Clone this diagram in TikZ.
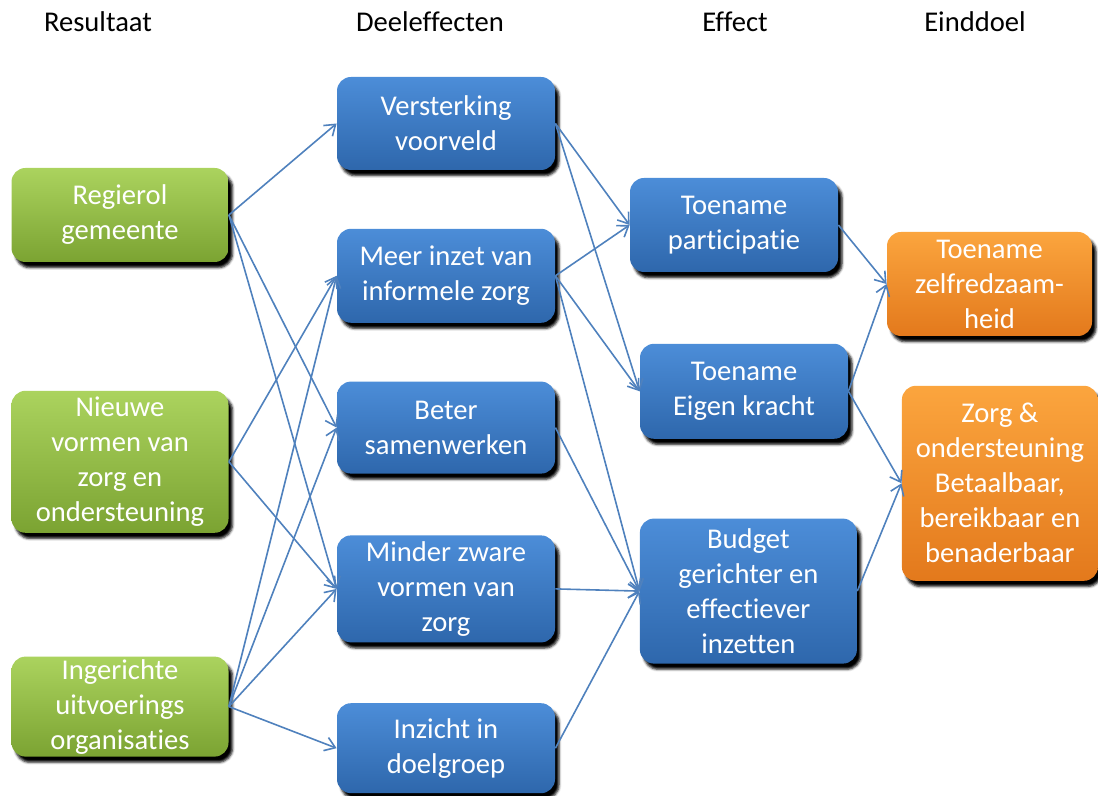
\documentclass[tikz,border=0pt]{standalone}
\usepackage{fontspec}
\setmainfont{Carlito}[Ligatures={NoCommon,NoContextual}, Contextuals=NoAlternate]
\usetikzlibrary{positioning, arrows.meta, shadows.blur}
\definecolor{groenb}{HTML}{ABD35E}
\definecolor{groeno}{HTML}{7BA332}
\definecolor{blauwb}{HTML}{4C8DD8}
\definecolor{blauwo}{HTML}{2E67AC}
\definecolor{oranjeb}{HTML}{FBA53E}
\definecolor{oranjeo}{HTML}{E3791C}
\definecolor{pijl}{HTML}{4F81BD}

\begin{document}
\begin{tikzpicture}[
    x=0.5pt, y=-0.5pt,
    bx/.style={rectangle, rounded corners=7pt, text=white, align=center,
        font=\fontsize{14.3}{17.5}\selectfont, inner sep=1pt,
        blur shadow={shadow xshift=2pt, shadow yshift=-2.8pt,
            shadow blur radius=1.2pt, shadow opacity=100}},
    res/.style={bx, top color=groenb, bottom color=groeno, minimum width=108.5pt},
    dee/.style={bx, top color=blauwb, bottom color=blauwo, minimum width=109pt},
    eff/.style={bx, top color=blauwb, bottom color=blauwo},
    doel/.style={bx, top color=oranjeb, bottom color=oranjeo},
    kop/.style={font=\fontsize{14.3}{17.5}\selectfont},
    pl/.style={-{Straight Barb[length=5pt, width=7pt]}, draw=pijl, line width=0.8pt},
    node distance=29pt]
\useasboundingbox (0,0) rectangle (1098,796);
% kolomkoppen
\node[kop] (hres) at (98,22) {Resultaat};
\node[kop] (hdee) at (430,22) {Deeleffecten};
\node[kop] (heff) at (735,22) {Effect};
\node[kop] (hdoel) at (975,22) {Einddoel};
% resultaat
\node[res, minimum height=47pt] (reg) at (120,215) {Regierol\\gemeente};
\node[res, minimum height=71pt, below=64pt of reg] (nvz) {Nieuwe\\vormen van\\zorg en\\ondersteuning};
\node[res, minimum height=50pt, below=61.5pt of nvz] (iuo) {Ingerichte\\uitvoerings\\organisaties};
% deeleffecten
\node[dee, minimum height=46.5pt] (ver) at (446,123.5) {Versterking\\voorveld};
\node[dee, minimum height=47pt, below=of ver] (mei) {Meer inzet van\\informele zorg};
\node[dee, minimum height=46pt, below=of mei] (bet) {Beter\\samenwerken};
\node[dee, minimum height=53.5pt, below=30.5pt of bet] (min) {Minder zware\\vormen van\\zorg};
\node[dee, minimum height=45pt, below=30pt of min] (inz) {Inzicht in\\doelgroep};
% effect
\node[eff, minimum width=104pt, minimum height=47pt] (par) at (734,225) {Toename\\participatie};
\node[eff, minimum width=104pt, minimum height=47.5pt, below=35.5pt of par, xshift=5pt] (eig) {Toename\\Eigen kracht};
\node[eff, minimum width=108.5pt, minimum height=72.5pt, below=39.5pt of eig, xshift=2.2pt] (bud) {Budget\\gerichter en\\effectiever\\inzetten};
% einddoel
\node[doel, minimum width=102.5pt, minimum height=52pt] (zel) at (989.5,284) {Toename\\zelfredzaam-\\heid};
\node[doel, minimum width=98pt, minimum height=97.5pt, below=24.5pt of zel, xshift=5.2pt] (zor) {Zorg \&\\ondersteuning\\Betaalbaar,\\bereikbaar en\\benaderbaar};
% pijlen
\draw[pl] (reg.east) -- (ver.west);
\draw[pl] (reg.east) -- (bet.west);
\draw[pl] (reg.east) -- (min.west);
\draw[pl] (nvz.east) -- (mei.west);
\draw[pl] (nvz.east) -- (min.west);
\draw[pl] (iuo.east) -- (mei.west);
\draw[pl] (iuo.east) -- (bet.west);
\draw[pl] (iuo.east) -- (min.west);
\draw[pl] (iuo.east) -- (inz.west);
\draw[pl] (ver.east) -- (par.west);
\draw[pl] (ver.east) -- (eig.west);
\draw[pl] (mei.east) -- (par.west);
\draw[pl] (mei.east) -- (eig.west);
\draw[pl] (mei.east) -- (bud.west);
\draw[pl] (bet.east) -- (bud.west);
\draw[pl] (min.east) -- (bud.west);
\draw[pl] (inz.east) -- (bud.west);
\draw[pl] (par.east) -- (zel.west);
\draw[pl] (eig.east) -- (zel.west);
\draw[pl] (eig.east) -- (zor.west);
\draw[pl] (bud.east) -- (zor.west);
\end{tikzpicture}
\end{document}
